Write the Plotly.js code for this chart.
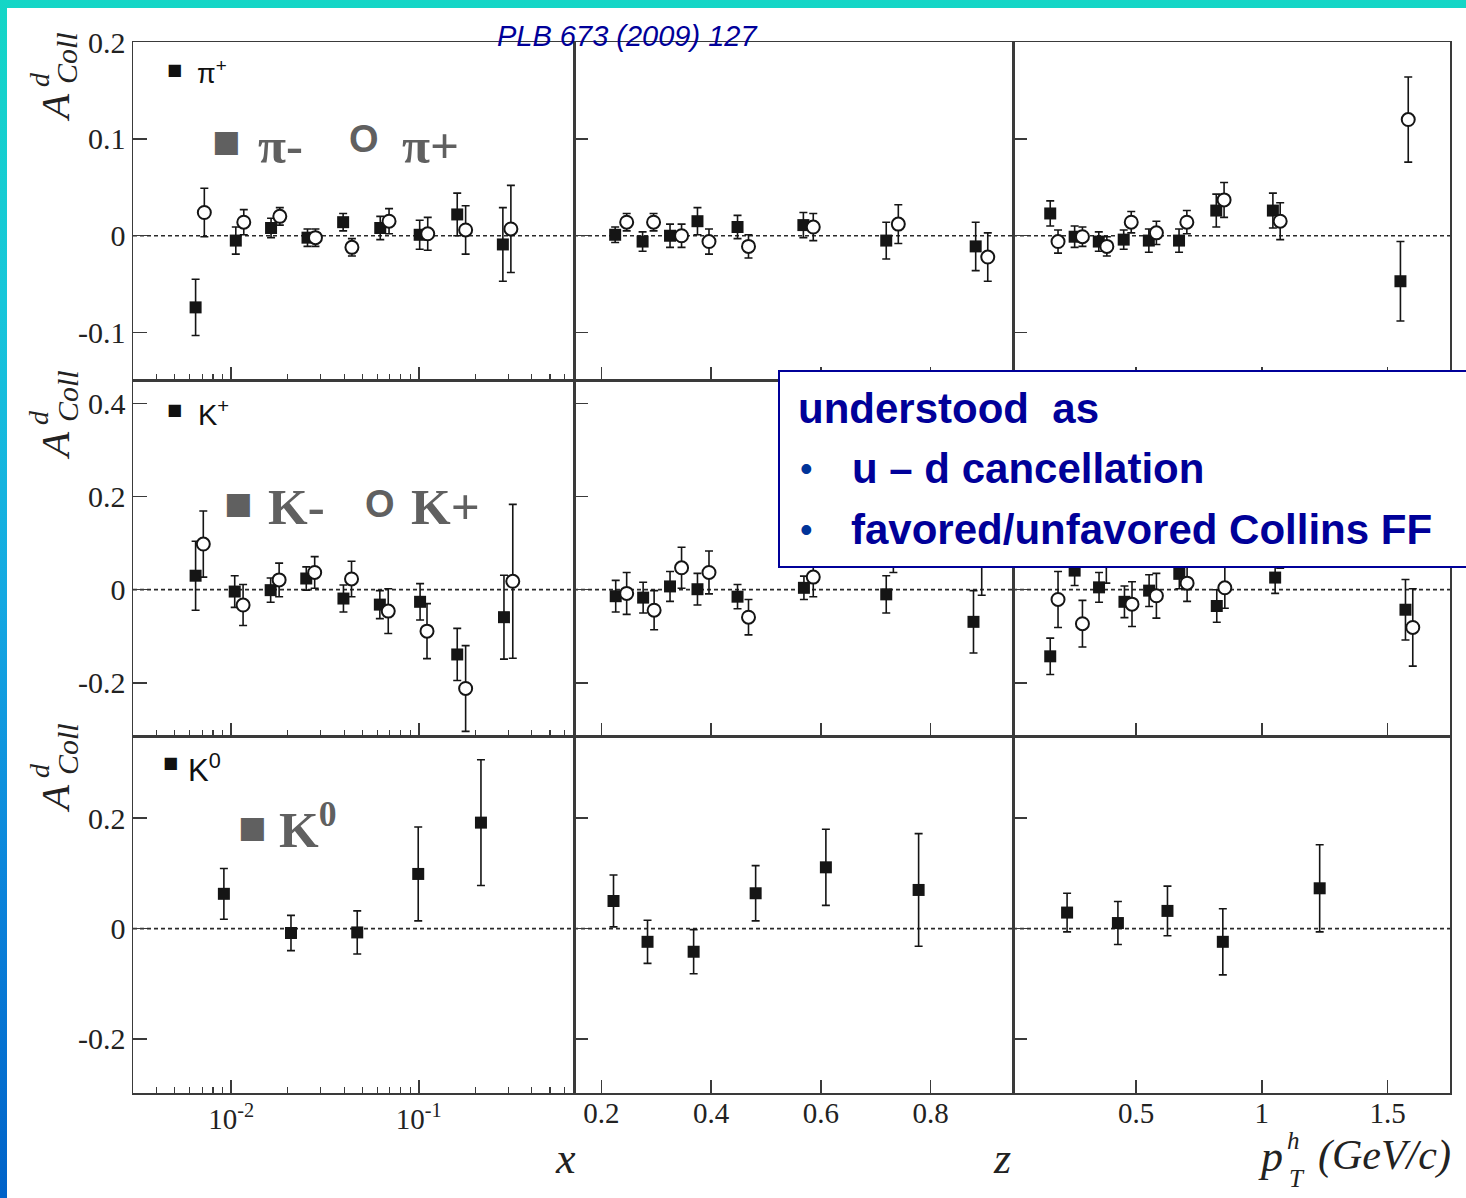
<!DOCTYPE html>
<html><head><meta charset="utf-8">
<script src="https://cdn.plot.ly/plotly-3.0.1.min.js"></script>
<style>
html,body{margin:0;padding:0;width:1466px;height:1198px;overflow:hidden;
background:linear-gradient(180deg,#14d6c6 0%,#17c6da 25%,#14a8e2 50%,#0a82da 75%,#0062c8 100%);}
#chart{position:absolute;left:7px;top:8px;width:1459px;height:1190px;background:#fff;}
</style></head><body><div id="chart"></div>
<script>
// ---------- pions vs x ----------
const pim_x_x = [0.00646, 0.01058, 0.01631, 0.02551, 0.03951, 0.06231, 0.1011, 0.1603, 0.2807];
const pim_x_A = [-0.074, -0.005, 0.008, -0.002, 0.014, 0.008, 0.001, 0.022, -0.009];
const pim_x_E = [0.029, 0.014, 0.010, 0.009, 0.009, 0.012, 0.015, 0.022, 0.038];
const pip_x_x = [0.00719, 0.01167, 0.01816, 0.02813, 0.04401, 0.06942, 0.1116, 0.1777, 0.3097];
const pip_x_A = [0.024, 0.014, 0.020, -0.002, -0.012, 0.015, 0.002, 0.006, 0.007];
const pip_x_E = [0.025, 0.013, 0.009, 0.009, 0.009, 0.013, 0.017, 0.025, 0.045];
// ---------- pions vs z ----------
const pim_z_z = [0.225, 0.275, 0.325, 0.375, 0.448, 0.568, 0.719, 0.882];
const pim_z_A = [0.001, -0.006, 0.000, 0.015, 0.009, 0.011, -0.005, -0.011];
const pim_z_E = [0.008, 0.010, 0.012, 0.014, 0.012, 0.013, 0.019, 0.025];
const pip_z_z = [0.246, 0.295, 0.346, 0.396, 0.468, 0.586, 0.741, 0.904];
const pip_z_A = [0.014, 0.014, 0.000, -0.006, -0.011, 0.009, 0.012, -0.022];
const pip_z_E = [0.009, 0.009, 0.012, 0.013, 0.012, 0.014, 0.020, 0.025];
// ---------- pions vs pT ----------
const pim_p_p = [0.159, 0.256, 0.352, 0.451, 0.551, 0.671, 0.819, 1.044, 1.551];
const pim_p_A = [0.023, -0.001, -0.006, -0.004, -0.005, -0.005, 0.026, 0.026, -0.047];
const pim_p_E = [0.013, 0.011, 0.010, 0.010, 0.012, 0.012, 0.017, 0.018, 0.041];
const pip_p_p = [0.190, 0.287, 0.384, 0.481, 0.581, 0.702, 0.850, 1.073, 1.582];
const pip_p_A = [-0.006, -0.001, -0.011, 0.014, 0.003, 0.014, 0.037, 0.015, 0.120];
const pip_p_E = [0.012, 0.010, 0.010, 0.011, 0.012, 0.012, 0.018, 0.019, 0.044];
// ---------- kaons vs x ----------
const km_x_x = [0.00646, 0.01044, 0.01623, 0.02513, 0.03966, 0.0620, 0.1016, 0.1603, 0.2845];
const km_x_A = [0.030, -0.004, -0.001, 0.024, -0.019, -0.032, -0.026, -0.139, -0.059];
const km_x_E = [0.074, 0.034, 0.026, 0.025, 0.029, 0.030, 0.039, 0.056, 0.090];
const kp_x_x = [0.0071, 0.01157, 0.01801, 0.02786, 0.0438, 0.06874, 0.1106, 0.1777, 0.317];
const kp_x_A = [0.098, -0.033, 0.021, 0.037, 0.023, -0.046, -0.089, -0.212, 0.018];
const kp_x_E = [0.071, 0.044, 0.036, 0.034, 0.038, 0.048, 0.059, 0.092, 0.165];
// ---------- kaons vs z ----------
const km_z_z = [0.226, 0.276, 0.325, 0.375, 0.448, 0.569, 0.719, 0.878];
const km_z_A = [-0.014, -0.017, 0.007, 0.001, -0.015, 0.004, -0.010, -0.069];
const km_z_E = [0.034, 0.033, 0.032, 0.034, 0.026, 0.025, 0.040, 0.067];
const kp_z_z = [0.246, 0.296, 0.346, 0.396, 0.468, 0.586, 0.732, 0.893];
const kp_z_A = [-0.008, -0.044, 0.047, 0.037, -0.059, 0.027, 0.085, 0.085];
const kp_z_E = [0.045, 0.042, 0.044, 0.046, 0.038, 0.042, 0.048, 0.097];
// ---------- kaons vs pT ----------
const km_p_p = [0.159, 0.256, 0.353, 0.454, 0.552, 0.672, 0.821, 1.053, 1.571];
const km_p_A = [-0.143, 0.041, 0.005, -0.026, -0.002, 0.034, -0.035, 0.026, -0.043];
const km_p_E = [0.039, 0.032, 0.032, 0.034, 0.034, 0.032, 0.035, 0.034, 0.065];
const kp_p_p = [0.190, 0.287, 0.382, 0.484, 0.581, 0.703, 0.853, 1.073, 1.600];
const kp_p_A = [-0.021, -0.073, 0.062, -0.031, -0.013, 0.014, 0.004, 0.092, -0.081];
const kp_p_E = [0.060, 0.050, 0.048, 0.048, 0.048, 0.039, 0.044, 0.046, 0.083];
// ---------- K0 ----------
const k0_x_x = [0.00914, 0.02083, 0.04697, 0.0993, 0.2145];
const k0_x_A = [0.063, -0.008, -0.007, 0.099, 0.192];
const k0_x_E = [0.046, 0.032, 0.039, 0.085, 0.114];
const k0_z_z = [0.222, 0.284, 0.368, 0.481, 0.609, 0.778];
const k0_z_A = [0.050, -0.024, -0.042, 0.064, 0.111, 0.070];
const k0_z_E = [0.047, 0.039, 0.040, 0.050, 0.069, 0.102];
const k0_p_p = [0.226, 0.428, 0.625, 0.845, 1.230];
const k0_p_A = [0.029, 0.010, 0.032, -0.024, 0.073];
const k0_p_E = [0.035, 0.039, 0.045, 0.060, 0.079];

// ---------- axis tick labels ----------
const xLogTicks = [0.01, 0.1];
const xLogTickText = ['10<sup>-2</sup>', '10<sup>-1</sup>'];
const xLogMinor = [0.004,0.005,0.006,0.007,0.008,0.009,0.02,0.03,0.04,0.05,0.06,0.07,0.08,0.09,0.2,0.3,0.4,0.5,0.6];
const zTicks = [0.2, 0.4, 0.6, 0.8];
const zTickText = ['0.2', '0.4', '0.6', '0.8'];
const pTicks = [0.5, 1, 1.5];
const pTickText = ['0.5', '1', '1.5'];
const yTicksRow = [[-0.1, 0, 0.1, 0.2], [-0.2, 0, 0.2, 0.4], [-0.2, 0, 0.2]];
const yTickTextRow = [['-0.1', '0', '0.1', '0.2'], ['-0.2', '0', '0.2', '0.4'], ['-0.2', '0', '0.2']];

// ---------- layout geometry (page px -> paper) ----------
const PL = 133, PR = 1450, PT = 42, PB = 1093;
const fx = X => (X - PL) / (PR - PL);
const fy = Y => (PB - Y) / (PB - PT);
const colDom = [[0, fx(574)], [fx(574), fx(1013)], [fx(1013), 1]];
const rowDom = [[fy(380), 1], [fy(736), fy(380)], [0, fy(736)]];
const yRanges = [[-0.149, 0.2001], [-0.314, 0.45], [-0.298, 0.349]];
const xRanges = [[-2.5235, -0.1726], [0.15, 0.95], [0.011, 1.748]];

const INK = '#151515', LINE = '#3a3a3a';
const serif = 'Liberation Serif, Times New Roman, serif';
const sans = 'Liberation Sans, Arial, sans-serif';

function sfx(r, c) { const i = r * 3 + c + 1; return i === 1 ? '' : String(i); }

function series(xs, ys, es, r, c, open) {
  const s = sfx(r, c);
  return {
    type: 'scatter', mode: 'markers', x: xs, y: ys, xaxis: 'x' + s, yaxis: 'y' + s,
    error_y: { type: 'data', array: es, visible: true, color: INK, thickness: 1.6, width: 4 },
    marker: open ? { symbol: 'circle', size: 13, color: '#fff', line: { color: INK, width: 2 } }
                 : { symbol: 'square', size: 12, color: INK, line: { width: 0 } },
    showlegend: false, hoverinfo: 'skip', cliponaxis: true
  };
}

const data = [
  series(pim_x_x, pim_x_A, pim_x_E, 0, 0, false), series(pip_x_x, pip_x_A, pip_x_E, 0, 0, true),
  series(pim_z_z, pim_z_A, pim_z_E, 0, 1, false), series(pip_z_z, pip_z_A, pip_z_E, 0, 1, true),
  series(pim_p_p, pim_p_A, pim_p_E, 0, 2, false), series(pip_p_p, pip_p_A, pip_p_E, 0, 2, true),
  series(km_x_x, km_x_A, km_x_E, 1, 0, false), series(kp_x_x, kp_x_A, kp_x_E, 1, 0, true),
  series(km_z_z, km_z_A, km_z_E, 1, 1, false), series(kp_z_z, kp_z_A, kp_z_E, 1, 1, true),
  series(km_p_p, km_p_A, km_p_E, 1, 2, false), series(kp_p_p, kp_p_A, kp_p_E, 1, 2, true),
  series(k0_x_x, k0_x_A, k0_x_E, 2, 0, false),
  series(k0_z_z, k0_z_A, k0_z_E, 2, 1, false),
  series(k0_p_p, k0_p_A, k0_p_E, 2, 2, false)
];

const layout = {
  width: 1459, height: 1190,
  margin: { l: PL - 7, r: 1459 - (PR - 7), t: PT - 8, b: 1190 - (PB - 8), pad: 0 },
  paper_bgcolor: '#fff', plot_bgcolor: '#fff',
  showlegend: false, shapes: [], annotations: []
};

for (let r = 0; r < 3; r++) {
  for (let c = 0; c < 3; c++) {
    const s = sfx(r, c);
    const xa = {
      domain: colDom[c], anchor: 'y' + s, range: xRanges[c],
      showline: true, mirror: true, linecolor: LINE, linewidth: 1.5,
      ticks: 'inside', ticklen: 13, tickwidth: 1.5, tickcolor: LINE,
      showgrid: false, zeroline: false, showticklabels: r === 2,
      tickfont: { family: serif, size: 29, color: '#222' }, fixedrange: true, tickmode: 'array'
    };
    if (c === 0) {
      xa.type = 'log'; xa.tickvals = xLogTicks; xa.ticktext = xLogTickText;
      xa.minor = { tickmode: 'array', tickvals: xLogMinor, ticks: 'inside', ticklen: 6, tickwidth: 1.2, tickcolor: LINE, showgrid: false };
    } else if (c === 1) {
      xa.tickvals = zTicks; xa.ticktext = zTickText; xa.ticklabelstandoff = -6;
    } else {
      xa.tickvals = pTicks; xa.ticktext = pTickText; xa.ticklabelstandoff = -6;
    }
    const ya = {
      domain: rowDom[r], anchor: 'x' + s, range: yRanges[r],
      showline: true, mirror: true, linecolor: LINE, linewidth: 1.5,
      ticks: 'inside', ticklen: 14, tickwidth: 1.5, tickcolor: LINE,
      showgrid: false, zeroline: false, showticklabels: c === 0,
      tickmode: 'array', tickvals: yTicksRow[r], ticktext: yTickTextRow[r],
      tickfont: { family: serif, size: 30, color: '#222' }, fixedrange: true
    };
    layout['xaxis' + s] = xa;
    layout['yaxis' + s] = ya;
    layout.shapes.push({
      type: 'line', xref: 'x' + s + ' domain', x0: 0, x1: 1, yref: 'y' + s, y0: 0, y1: 0,
      line: { color: '#2a2a2a', width: 1.7, dash: '4px,3px' }, layer: 'below'
    });
  }
}

// text box
layout.shapes.push({
  type: 'rect', xref: 'paper', yref: 'paper',
  x0: fx(779), x1: fx(1480), y0: fy(567), y1: fy(371),
  fillcolor: '#fff', line: { color: '#000099', width: 2 }, layer: 'above'
});

function A(X, Y, text, o) {
  o = o || {};
  return Object.assign({
    xref: 'paper', yref: 'paper', x: fx(X), y: fy(Y), text: text, showarrow: false,
    xanchor: 'center', yanchor: 'middle', borderpad: 0,
    font: { family: serif, size: 28, color: '#222' }
  }, o);
}
const ann = layout.annotations;
ann.push(A(627, 36, '<i>PLB 673 (2009) 127</i>', { font: { family: sans, size: 29, color: '#000099' } }));

// y-axis titles
[108, 446, 799].forEach(yA => {
  ann.push(A(55, yA, '<i>A</i>', { textangle: -90, font: { family: serif, size: 41, color: '#222' } }));
  ann.push(A(39, yA - 28, '<i>d</i>', { textangle: -90, font: { family: serif, size: 28, color: '#222' } }));
  ann.push(A(67, yA - 50, '<i>Coll</i>', { textangle: -90, font: { family: serif, size: 30, color: '#222' } }));
});

// small in-panel legends
const sq = { family: 'DejaVu Sans', size: 16, color: '#111' };
ann.push(A(174, 70, '■', { font: sq }));
ann.push(A(196, 72, 'π<sup>+</sup>', { xanchor: 'left', font: { family: sans, size: 27, color: '#111' } }));
ann.push(A(174, 410, '■', { font: sq }));
ann.push(A(197, 413, 'K<sup>+</sup>', { xanchor: 'left', font: { family: sans, size: 29, color: '#111' } }));
ann.push(A(170, 762, '■', { font: sq }));
ann.push(A(187, 768, 'K<sup>0</sup>', { xanchor: 'left', font: { family: sans, size: 31, color: '#111' } }));

// grey overlay labels
const G = '#606060';
const gsq = { family: 'DejaVu Sans', size: 30, color: G };
const gO = { family: sans, size: 38, color: G };
const gT = { family: serif, size: 51, color: G };
ann.push(A(226, 141, '■', { font: gsq }));
ann.push(A(280, 146, '<b>π-</b>', { font: gT }));
ann.push(A(364, 139, '<b>O</b>', { font: gO }));
ann.push(A(430, 146, '<b>π+</b>', { font: gT }));
ann.push(A(238, 502, '■', { font: gsq }));
ann.push(A(296, 507, '<b>K-</b>', { font: gT }));
ann.push(A(380, 504, '<b>O</b>', { font: gO }));
ann.push(A(445, 507, '<b>K+</b>', { font: gT }));
ann.push(A(252, 826, '■', { font: gsq }));
ann.push(A(278, 826, '<b>K<sup>0</sup></b>', { xanchor: 'left', font: gT }));

// text box contents
const B = { family: sans, size: 42, color: '#000099' };
ann.push(A(797, 408, '<b>understood\u00a0\u00a0as</b>', { xanchor: 'left', font: B }));
ann.push(A(806, 468, '•', { font: { family: sans, size: 36, color: '#003399' } }));
ann.push(A(851, 468, '<b>u – d cancellation</b>', { xanchor: 'left', font: B }));
ann.push(A(806, 529, '•', { font: { family: sans, size: 36, color: '#003399' } }));
ann.push(A(850, 529, '<b>favored/unfavored Collins FF</b>', { xanchor: 'left', font: B }));

// axis titles
const T = { family: serif, size: 44, color: '#222' };
ann.push(A(565, 1158, '<i>x</i>', { font: T }));
ann.push(A(1002, 1158, '<i>z</i>', { font: T }));
ann.push(A(1270, 1156, '<i>p</i>', { font: T }));
ann.push(A(1293, 1140, '<i>h</i>', { font: { family: serif, size: 25, color: '#222' } }));
ann.push(A(1297, 1178, '<i>T</i>', { font: { family: serif, size: 25, color: '#222' } }));
ann.push(A(1317, 1155, '<i>(GeV/c)</i>', { xanchor: 'left', font: { family: serif, size: 42, color: '#222' } }));

Plotly.newPlot('chart', data, layout, { staticPlot: true, displayModeBar: false });
</script></body></html>
